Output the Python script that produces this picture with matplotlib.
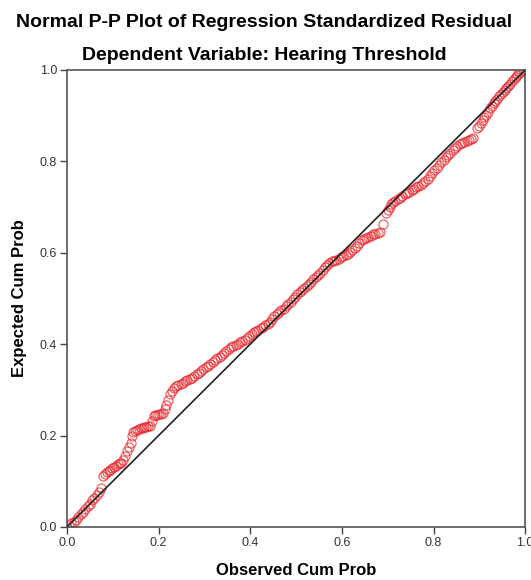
import numpy as np
import matplotlib
matplotlib.use('Agg')
import matplotlib.pyplot as plt

plt.rcParams['font.family'] = ['Liberation Sans', 'DejaVu Sans']

# observed vs expected cumulative probability
observed = [
    0.000, 0.005, 0.010, 0.015, 0.020, 0.025, 0.030, 0.035, 0.040, 0.045,
    0.050, 0.055, 0.060, 0.065, 0.070, 0.075,
    0.079, 0.083, 0.087, 0.091, 0.095, 0.099, 0.103, 0.107, 0.111, 0.115,
    0.119, 0.123, 0.127, 0.131, 0.135, 0.139, 0.142, 0.145,
    0.149, 0.153, 0.157, 0.161, 0.165, 0.169, 0.173, 0.177, 0.181, 0.185,
    0.189, 0.193, 0.197, 0.201, 0.205, 0.209, 0.213, 0.217, 0.221, 0.225,
    0.229, 0.233,
    0.238, 0.243, 0.248, 0.253, 0.258, 0.263, 0.268, 0.273, 0.278, 0.283,
    0.288, 0.293, 0.298, 0.303, 0.308, 0.313, 0.318, 0.323, 0.328, 0.333,
    0.338, 0.343, 0.348, 0.353, 0.358, 0.363, 0.368, 0.373, 0.378, 0.383,
    0.388, 0.393, 0.398, 0.403, 0.408, 0.413, 0.418, 0.423, 0.428, 0.433,
    0.438,
    0.443, 0.448, 0.453, 0.458, 0.463, 0.468, 0.473, 0.478, 0.483, 0.488,
    0.493, 0.498, 0.503, 0.508, 0.513, 0.518, 0.523, 0.528, 0.533, 0.538,
    0.543, 0.548, 0.553, 0.558, 0.563, 0.568, 0.573, 0.578,
    0.583, 0.588, 0.593, 0.598, 0.603, 0.608, 0.613, 0.618, 0.623, 0.628,
    0.633, 0.638, 0.643, 0.648, 0.653, 0.658, 0.663, 0.668, 0.673, 0.678,
    0.683, 0.690, 0.696, 0.700, 0.704, 0.708, 0.712, 0.717, 0.722, 0.727,
    0.732, 0.737, 0.742, 0.747, 0.752, 0.757, 0.762, 0.767, 0.772, 0.777,
    0.782, 0.787, 0.792, 0.797, 0.802, 0.807, 0.812, 0.817, 0.822, 0.827,
    0.832, 0.837, 0.842, 0.847, 0.852, 0.857, 0.862, 0.867, 0.872, 0.877,
    0.882, 0.887, 0.895, 0.899, 0.903, 0.907, 0.911, 0.915, 0.919, 0.923,
    0.927, 0.931, 0.935, 0.939, 0.943, 0.947, 0.951, 0.955, 0.959, 0.963,
    0.967, 0.971, 0.975, 0.979, 0.983, 0.987, 0.991, 0.995, 0.999]
expected = [
    0.000, 0.004, 0.008, 0.012, 0.016, 0.022, 0.028, 0.033, 0.039, 0.045,
    0.051, 0.058, 0.064, 0.070, 0.077, 0.085,
    0.112, 0.117, 0.120, 0.122, 0.125, 0.128, 0.131, 0.134, 0.137, 0.139,
    0.141, 0.147, 0.156, 0.166, 0.174, 0.184, 0.198, 0.208,
    0.211, 0.213, 0.215, 0.216, 0.217, 0.218, 0.219, 0.220, 0.222, 0.232,
    0.242, 0.244, 0.246, 0.247, 0.248, 0.250, 0.258, 0.268, 0.278, 0.290,
    0.298, 0.304,
    0.308, 0.311, 0.313, 0.316, 0.319, 0.321, 0.324, 0.327, 0.331, 0.334,
    0.338, 0.341, 0.345, 0.349, 0.353, 0.357, 0.362, 0.366, 0.370, 0.373,
    0.377, 0.381, 0.386, 0.390, 0.393, 0.396, 0.398, 0.401, 0.404, 0.406,
    0.410, 0.414, 0.418, 0.422, 0.426, 0.429, 0.432, 0.435, 0.438, 0.441,
    0.444,
    0.449, 0.456, 0.461, 0.465, 0.470, 0.474, 0.478, 0.483, 0.488, 0.493,
    0.498, 0.503, 0.509, 0.514, 0.519, 0.523, 0.527, 0.532, 0.537, 0.542,
    0.547, 0.552, 0.556, 0.562, 0.568, 0.573, 0.578, 0.581,
    0.583, 0.585, 0.587, 0.590, 0.592, 0.595, 0.598, 0.602, 0.606, 0.610,
    0.615, 0.622, 0.627, 0.630, 0.633, 0.635, 0.637, 0.640, 0.642, 0.644,
    0.646, 0.663, 0.686, 0.694, 0.700, 0.706, 0.711, 0.714, 0.717, 0.720,
    0.724, 0.728, 0.731, 0.734, 0.737, 0.740, 0.743, 0.746, 0.749, 0.753,
    0.757, 0.762, 0.768, 0.774, 0.780, 0.786, 0.792, 0.798, 0.804, 0.809,
    0.814, 0.819, 0.824, 0.829, 0.834, 0.838, 0.841, 0.843, 0.845, 0.847,
    0.849, 0.851, 0.872, 0.878, 0.884, 0.890, 0.896, 0.902, 0.909, 0.916,
    0.922, 0.927, 0.932, 0.937, 0.942, 0.947, 0.951, 0.956, 0.961, 0.965,
    0.970, 0.975, 0.980, 0.985, 0.989, 0.993, 0.996, 0.999, 1.000]
ticks = [0.0, 0.2, 0.4, 0.6, 0.8, 1.0]

fig = plt.figure(figsize=(5.31, 5.80), dpi=100)
ax = fig.add_axes([0.126, 0.0914, 0.863, 0.788])

ax.plot(observed, expected, 'o', ms=6.5, mfc='none', mec='#e8242a', mew=0.9,
        alpha=0.7, zorder=2)
ax.plot([0, 1], [0, 1], color='#222222', lw=1.2, zorder=3)

ax.set_xlim(0, 1)
ax.set_ylim(0, 1)
ax.set_xticks(ticks)
ax.set_yticks(ticks)
ax.set_xticklabels(['%.1f' % t for t in ticks])
ax.set_yticklabels(['%.1f' % t for t in ticks])
ax.tick_params(direction='out', length=5, width=1, color='#444444',
               labelsize=9, labelcolor='#333333', pad=2)
for s in ax.spines.values():
    s.set_color('#555555')
    s.set_linewidth(1.2)

ax.set_xlabel('Observed Cum Prob', fontsize=12, fontweight='bold', labelpad=10)
ax.set_ylabel('Expected Cum Prob', fontsize=12, fontweight='bold', labelpad=9)

fig.text(0.498, 0.962, 'Normal P-P Plot of Regression Standardized Residual',
         ha='center', va='center', fontsize=14, fontweight='bold')
fig.text(0.498, 0.905, 'Dependent Variable: Hearing Threshold',
         ha='center', va='center', fontsize=14, fontweight='bold')

fig.savefig('out.png', dpi=100)
